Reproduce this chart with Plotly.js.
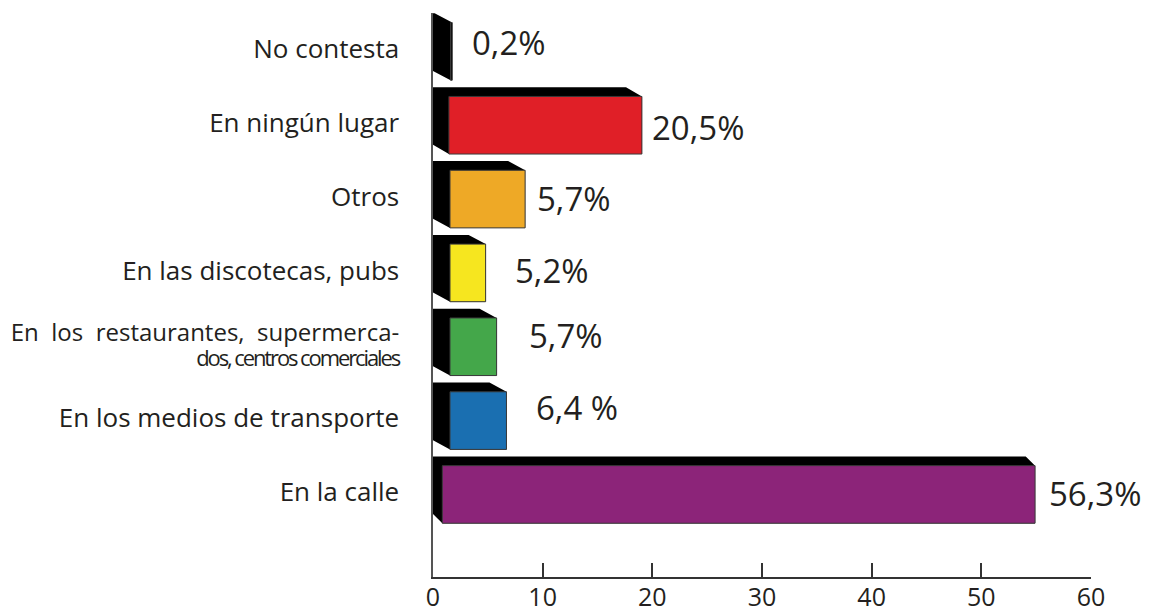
<!DOCTYPE html>
<html>
<head>
<meta charset="utf-8">
<script src="https://cdn.plot.ly/plotly-3.0.1.min.js"></script>
<style>
  html, body { margin: 0; padding: 0; background: #ffffff; }
  #chart { width: 1170px; height: 613px; }
</style>
</head>
<body>
<div id="chart"></div>
<script>
// ---- Data (top to bottom, as in the reference) ----
var categories = [
  "No contesta",
  "En ningún lugar",
  "Otros",
  "En las discotecas, pubs",
  "En los restaurantes, supermercados, centros comerciales",
  "En los medios de transporte",
  "En la calle"
];
// percentages printed next to each bar
var percentValues = [0.2, 20.5, 5.7, 5.2, 5.7, 6.4, 56.3];
var percentLabels = ["0,2%", "20,5%", "5,7%", "5,2%", "5,7%", "6,4 %", "56,3%"];
// bar lengths as drawn in the reference (end of the front face, axis units)
var barLengths = [1.75, 19.05, 8.4, 4.8, 5.8, 6.7, 54.9];
var xTicks = [0, 10, 20, 30, 40, 50, 60];

// ---- Styles ----
var barColors = ["#000000", "#e01f27", "#eea926", "#f6e61f", "#44a74a", "#1a6fb1", "#8c2479"];
var depthX = [1.6, 1.45, 1.55, 1.55, 1.55, 1.55, 0.85]; // oblique depth, axis units
var depthY = 0.125;      // oblique depth, category units
var barH = 0.78;         // height of the front face
var labelShift = [[18, 9], [8, -2], [10, 1], [27, 2], [30, 11], [28, 13], [12, 1]]; // px nudges
var S = "<span style=\"font-size:26px\">";
var tickText = [
  S + "No contesta</span>",
  S + "En ningún lugar</span>",
  S + "Otros</span>",
  S + "En las discotecas, pubs</span>",
  "<span style=\"font-size:24px\">En\u00a0\u00a0los\u00a0\u00a0restaurantes,\u00a0\u00a0supermerca-</span><br><span style=\"font-size:22px;letter-spacing:-2.1px\">dos, centros comerciales</span>",
  S + "En los medios de transporte</span>",
  S + "En la calle</span>"
];

var n = categories.length;
var pos = categories.map(function (c, i) { return n - 1 - i; });

// black body (back, top and left faces) of each 3D bar
var hx = [], hy = [];
for (var i = 0; i < n; i++) {
  var L = barLengths[i], d = depthX[i], c = pos[i], h = barH / 2;
  hx.push(0, 0, L - d, L, L, d, 0, null);
  hy.push(c - h + depthY, c + h + depthY, c + h + depthY, c + h, c - h, c - h, c - h + depthY, null);
}
var traces = [{
  type: "scatter", mode: "lines", x: hx, y: hy, fill: "toself",
  fillcolor: "#000000", line: { width: 0, color: "#000000" },
  hoverinfo: "skip", showlegend: false
}];
// coloured front faces
for (var j = 0; j < n; j++) {
  var L2 = barLengths[j], d2 = depthX[j], c2 = pos[j], h2 = barH / 2;
  traces.push({
    type: "scatter", mode: "lines",
    x: [d2, L2, L2, d2, d2],
    y: [c2 - h2, c2 - h2, c2 + h2, c2 + h2, c2 - h2],
    fill: "toself", fillcolor: barColors[j],
    line: { width: 1, color: "#3a3a3a" },
    name: categories[j], text: percentLabels[j],
    hoverinfo: "name+text", showlegend: false
  });
}

var annotations = percentLabels.map(function (t, k) {
  return {
    x: barLengths[k], y: pos[k], xref: "x", yref: "y",
    text: t, showarrow: false, xanchor: "left", yanchor: "middle",
    xshift: labelShift[k][0], yshift: labelShift[k][1],
    font: { family: "Open Sans, sans-serif", size: 33, color: "#231f20" }
  };
});

var layout = {
  width: 1170, height: 613,
  margin: { l: 433, r: 79, t: 13, b: 36, pad: 0 },
  paper_bgcolor: "#ffffff", plot_bgcolor: "#ffffff",
  showlegend: false,
  xaxis: {
    range: [0, 60], tickvals: xTicks, ticktext: xTicks.map(String),
    ticks: "inside", ticklen: 14, tickwidth: 2, tickcolor: "#333333",
    showline: true, linecolor: "#333333", linewidth: 2,
    showgrid: false, zeroline: false, ticklabelstandoff: -3,
    tickfont: { family: "Open Sans, sans-serif", size: 25, color: "#231f20" }
  },
  yaxis: {
    range: [-1.118, 6.52], tickvals: pos, ticktext: tickText,
    ticks: "", showline: true, linecolor: "#555555", linewidth: 2,
    showgrid: false, zeroline: false, ticklabelstandoff: 28,
    tickfont: { family: "Open Sans, sans-serif", size: 19, color: "#231f20" }
  },
  annotations: annotations
};

Plotly.newPlot("chart", traces, layout, { displayModeBar: false, staticPlot: true });
</script>
</body>
</html>
